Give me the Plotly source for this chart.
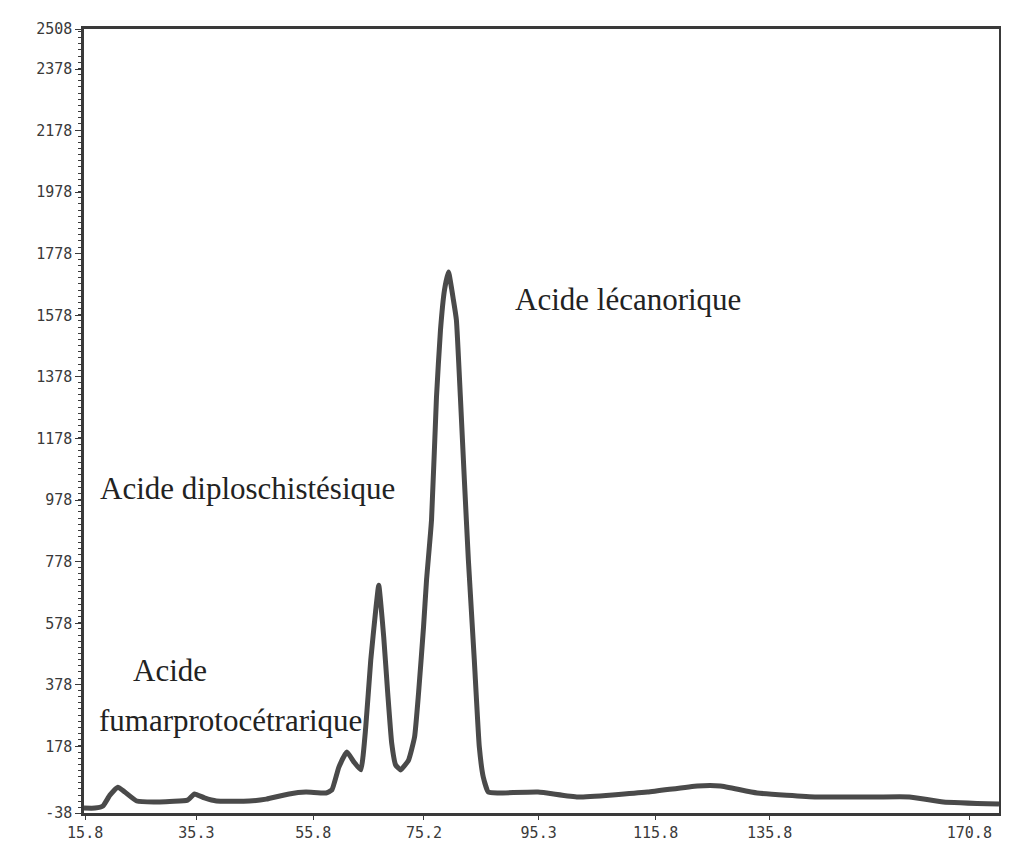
import plotly.graph_objects as go

# Retention time (min) and detector response
time_min = [15.6, 17.52, 18.92, 20.14, 21.53, 22.76, 24.85, 28.87, 33.75, 34.98,
            36.72, 38.82, 44.58, 47.54, 51.56, 54.52, 58.02, 59.06, 60.28, 61.68,
            62.90, 64.13, 64.99, 65.87, 66.74, 67.27, 68.14, 68.84, 69.54, 70.23,
            71.11, 72.50, 73.55, 74.25, 75.12, 75.65, 76.52, 77.39, 78.09, 78.79,
            79.49, 80.36, 80.88, 81.58, 82.28, 82.98, 84.02, 84.90, 85.59, 86.47,
            88.21, 95.19, 102.18, 114.40, 123.12, 127.14, 133.60, 144.07, 154.54,
            160.30, 166.24, 176.0]
response = [-22, -22, -15, 20, 46, 30, 1, -2, 4, 24,
            11, 1, 1, 7, 24, 30, 27, 37, 111, 160,
            128, 102, 241, 459, 621, 702, 534, 352, 189, 118,
            102, 134, 209, 352, 566, 719, 913, 1313, 1530, 1660,
            1719, 1628, 1563, 1313, 1043, 784, 459, 176, 79, 30,
            27, 30, 14, 30, 50, 50, 27, 14, 14, 14, -2, -9]

x_ticks = [15.8, 35.3, 55.8, 75.2, 95.3, 115.8, 135.8, 170.8]
x_tick_labels = ["15.8", "35.3", "55.8", "75.2", "95.3", "115.8", "135.8", "170.8"]
y_ticks = [-38, 178, 378, 578, 778, 978, 1178, 1378, 1578, 1778, 1978, 2178, 2378, 2508]
y_tick_labels = ["-38", "178", "378", "578", "778", "978", "1178", "1378", "1578",
                 "1778", "1978", "2178", "2378", "2508"]

peak_labels = ["Acide lécanorique", "Acide diploschistésique", "Acide",
               "fumarprotocétrarique"]
label_time = [110.9, 44.2, 30.6, 41.3]
label_resp = [1628, 1017, 426, 261]

fig = go.Figure()
fig.add_trace(go.Scatter(
    x=time_min, y=response, mode="lines",
    line=dict(color="#4a4a4a", width=5, shape="spline", smoothing=0.4),
    showlegend=False, hoverinfo="skip"))

for t, xv, yv in zip(peak_labels, label_time, label_resp):
    fig.add_annotation(x=xv, y=yv, text=t, showarrow=False,
                       font=dict(family="Liberation Serif", size=31, color="#222222"),
                       xanchor="center", yanchor="middle")

tick_font = dict(family="DejaVu Sans Mono", size=15, color="#3a3a3a")
fig.update_layout(
    width=993, height=847,
    margin=dict(l=76, r=2, t=21, b=42),
    paper_bgcolor="white", plot_bgcolor="white",
    xaxis=dict(range=[15.6, 176.0], tickvals=x_ticks, ticktext=x_tick_labels,
               automargin=False,
               showgrid=False, zeroline=False, showline=True, mirror=True,
               linecolor="#3a3a3a", linewidth=2.5, ticks="outside", ticklen=4,
               tickcolor="#3a3a3a", tickfont=tick_font),
    yaxis=dict(range=[-38, 2508], tickvals=y_ticks, ticktext=y_tick_labels,
               automargin=False,
               showgrid=False, zeroline=False, showline=True, mirror=True,
               linecolor="#3a3a3a", linewidth=2.5, ticks="outside", ticklen=6,
               tickcolor="#3a3a3a", tickfont=tick_font,
               minor=dict(ticks="outside", ticklen=3, tickcolor="#3a3a3a", nticks=28)),
)

fig.write_html("out.html")
